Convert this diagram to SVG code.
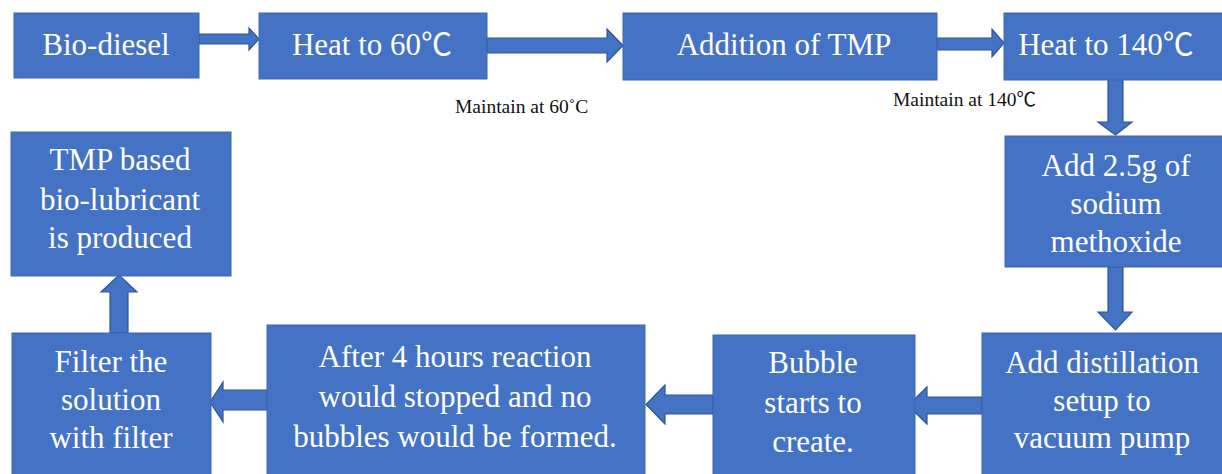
<svg xmlns="http://www.w3.org/2000/svg" width="1222" height="474" viewBox="0 0 1222 474">
<style>
.box{fill:#4472C4;stroke:#3C66B4;stroke-width:1}
.arr{fill:#4472C4;stroke:#2F5597;stroke-width:1.2;stroke-linejoin:miter}
.t{font-family:"Liberation Serif","Times New Roman",serif;font-size:31px;fill:#ffffff;text-anchor:middle}
.lbl{font-family:"Liberation Serif","Times New Roman",serif;font-size:19.5px;fill:#111111}
.cj{font-family:"Noto Sans CJK SC",sans-serif}
</style>
<rect width="1222" height="474" fill="#ffffff"/>
<g id="connectors">
<path class="arr" d="M199,34 L249,34 L249,28 L259,39 L249,50 L249,44 L199,44 Z"/>
<path class="arr" d="M487,38 L607,38 L607,29 L623,45.5 L607,62 L607,53 L487,53 Z"/>
<path class="arr" d="M937,38 L992,38 L992,29 L1004,43 L992,57 L992,50 L937,50 Z"/>
<path class="arr" d="M1108,79 L1123,79 L1123,122 L1132,122 L1115.5,135 L1098,122 L1108,122 Z"/>
<path class="arr" d="M1108,267 L1123,267 L1123,312 L1132,312 L1115.5,330 L1098,312 L1108,312 Z"/>
<path class="arr" d="M982,397 L927,397 L927,387 L908,405.5 L927,424 L927,414 L982,414 Z"/>
<path class="arr" d="M713,395 L665,395 L665,385 L646,404.5 L665,424 L665,414 L713,414 Z"/>
<path class="arr" d="M267,390 L223,390 L223,382 L210,402 L223,422 L223,410 L267,410 Z"/>
<path class="arr" d="M110,333 L110,292 L101,292 L119,275 L137,292 L128,292 L128,333 Z"/>
</g>
<g id="n-biodiesel"><rect class="box" x="14" y="13" width="185" height="65"/><text class="t" x="106" y="55">Bio-diesel</text></g>
<g id="n-heat60"><rect class="box" x="259" y="13" width="228" height="66"/><text class="t" x="372" y="55">Heat to 60<tspan class="cj">℃</tspan></text></g>
<g id="n-addtmp"><rect class="box" x="623" y="13" width="314" height="67"/><text class="t" x="784" y="55">Addition of TMP</text></g>
<g id="n-heat140"><rect class="box" x="1004" y="13" width="222" height="67"/><text class="t" x="1106" y="55">Heat to 140<tspan class="cj">℃</tspan></text></g>
<g id="n-sodium"><rect class="box" x="1005" y="136" width="221" height="131"/><text class="t" x="1116" y="176">Add 2.5g of</text><text class="t" x="1116" y="214">sodium</text><text class="t" x="1116" y="252">methoxide</text></g>
<g id="n-distill"><rect class="box" x="982" y="333" width="244" height="145"/><text class="t" x="1102" y="373">Add distillation</text><text class="t" x="1102" y="411">setup to</text><text class="t" x="1102" y="448">vacuum pump</text></g>
<g id="n-bubble"><rect class="box" x="713" y="335" width="202" height="143"/><text class="t" x="813" y="373">Bubble</text><text class="t" x="813" y="413">starts to</text><text class="t" x="813" y="452">create.</text></g>
<g id="n-after"><rect class="box" x="267" y="325" width="378" height="153"/><text class="t" x="455" y="367">After 4 hours reaction</text><text class="t" x="455" y="407">would stopped and no</text><text class="t" x="455" y="447">bubbles would be formed.</text></g>
<g id="n-filter"><rect class="box" x="12" y="333" width="199" height="145"/><text class="t" x="111" y="372">Filter the</text><text class="t" x="111" y="410">solution</text><text class="t" x="111" y="448">with filter</text></g>
<g id="n-tmp"><rect class="box" x="11" y="132" width="220" height="144"/><text class="t" x="120" y="170">TMP based</text><text class="t" x="120" y="210">bio-lubricant</text><text class="t" x="120" y="248">is produced</text></g>
<g id="labels">
<text class="lbl" x="455" y="113">Maintain at 60˚C</text>
<text class="lbl" x="893" y="106">Maintain at 140<tspan class="cj">℃</tspan></text>
</g>
</svg>
